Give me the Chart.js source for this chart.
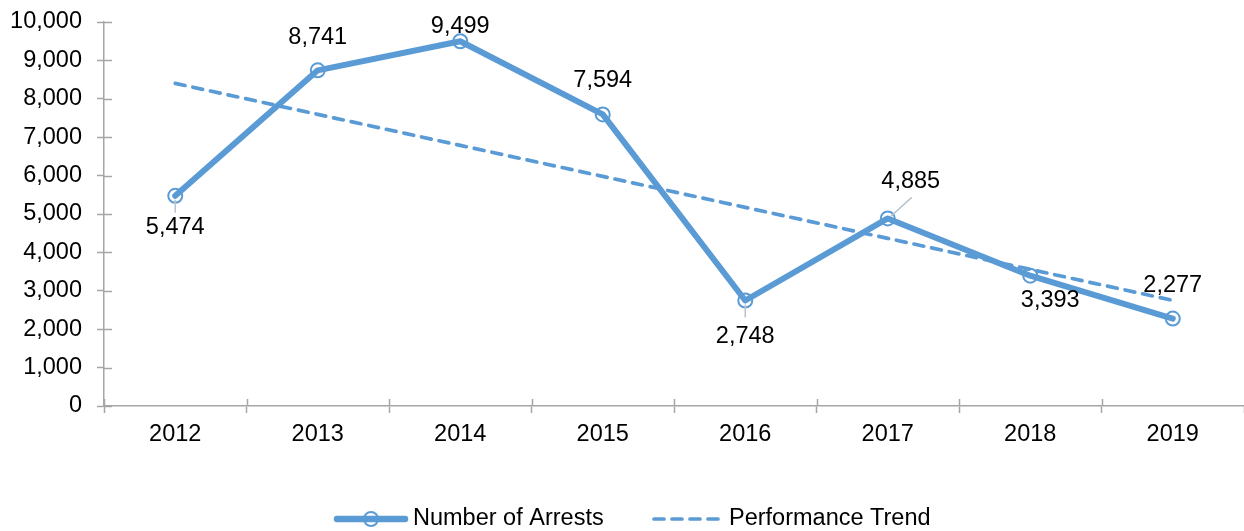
<!DOCTYPE html>
<html>
<head>
<meta charset="utf-8">
<script src="https://cdn.jsdelivr.net/npm/chart.js@4/dist/chart.umd.min.js"></script>
<style>
  html, body { margin: 0; padding: 0; background: #ffffff; }
  #wrap { width: 1244px; height: 531px; position: relative; }
</style>
</head>
<body>
<div id="wrap"><canvas id="c" width="1244" height="531"></canvas></div>
<script>
// ---- data ----
const years = ['2012', '2013', '2014', '2015', '2016', '2017', '2018', '2019'];
const arrests = [5474, 8741, 9499, 7594, 2748, 4885, 3393, 2277];
const trend = [8402, 7594, 6787, 5980, 5173, 4366, 3558, 2751];
const yTicks = [0, 1000, 2000, 3000, 4000, 5000, 6000, 7000, 8000, 9000, 10000];
const seriesNames = ['Number of Arrests', 'Performance Trend'];

// ---- styling ----
const BLUE = '#5b9bd5';
const GRAY = '#a6a6a6';
const LEADER = '#b8c4d0';
const FONT = '"Liberation Sans", Arial, sans-serif';
const FS = 23.5;
// label placement (dx, dy relative to point) and leader lines
const labelOffsets = [[0, 32], [0, -33], [0, -15], [0, -34], [0, 36], [23, -37], [20, 25], [0, -33]];
const leaders = { 0: [[0, 4], [0, 17]], 4: [[0, 4], [0, 17]], 5: [[3, -2], [24, -21]] };

function zeroPad(s) { s.paddingLeft = 0; s.paddingRight = 0; s.paddingTop = 0; s.paddingBottom = 0; }

const extras = {
  id: 'extras',
  afterDraw(chart) {
    const ctx = chart.ctx;
    const ca = chart.chartArea;
    const xs = chart.scales.x, ys = chart.scales.y;
    ctx.save();
    // inner halves of tick marks
    ctx.strokeStyle = GRAY;
    ctx.lineWidth = 1.5;
    ctx.beginPath();
    yTicks.forEach(v => {
      const py = Math.round(ys.getPixelForValue(v)) + 0.5;
      ctx.moveTo(ca.left, py); ctx.lineTo(ca.left + 8, py);
    });
    const step = xs.getPixelForValue(1) - xs.getPixelForValue(0);
    for (let i = 0; i < years.length; i++) {
      const px = Math.round(xs.getPixelForValue(i) - step / 2) + 0.5;
      ctx.moveTo(px, ca.bottom); ctx.lineTo(px, ca.bottom - 7);
    }
    ctx.stroke();

    // leader lines + data labels
    const meta = chart.getDatasetMeta(1);
    ctx.strokeStyle = LEADER;
    ctx.lineWidth = 1.5;
    Object.keys(leaders).forEach(k => {
      const el = meta.data[k];
      const l = leaders[k];
      ctx.beginPath();
      ctx.moveTo(el.x + l[0][0], el.y + l[0][1]);
      ctx.lineTo(el.x + l[1][0], el.y + l[1][1]);
      ctx.stroke();
    });
    ctx.fillStyle = '#000';
    ctx.font = FS + 'px ' + FONT;
    ctx.textAlign = 'center';
    ctx.textBaseline = 'middle';
    meta.data.forEach((el, i) => {
      const o = labelOffsets[i];
      ctx.fillText(arrests[i].toLocaleString('en-US'), el.x + o[0], el.y + o[1]);
    });

    // legend
    const ly = 519;
    ctx.lineCap = 'round';
    ctx.strokeStyle = BLUE;
    ctx.lineWidth = 6.5;
    ctx.beginPath(); ctx.moveTo(337, ly); ctx.lineTo(405, ly); ctx.stroke();
    ctx.lineWidth = 2;
    ctx.beginPath(); ctx.arc(371, ly, 7, 0, Math.PI * 2); ctx.stroke();
    ctx.lineWidth = 3.7;
    ctx.setLineDash([10, 8]);
    ctx.beginPath(); ctx.moveTo(654, ly); ctx.lineTo(724, ly); ctx.stroke();
    ctx.setLineDash([]);
    ctx.fillStyle = '#000';
    ctx.textAlign = 'left';
    ctx.fillText(seriesNames[0], 413, ly);
    ctx.fillText(seriesNames[1], 729, ly);
    ctx.restore();
  }
};

new Chart(document.getElementById('c'), {
  type: 'line',
  data: {
    labels: years,
    datasets: [
      {
        label: seriesNames[1],
        data: trend,
        borderColor: BLUE,
        borderWidth: 3.7,
        borderDash: [10, 8],
        borderCapStyle: 'round',
        pointRadius: 0,
        fill: false,
        tension: 0,
        order: 0
      },
      {
        label: seriesNames[0],
        data: arrests,
        borderColor: BLUE,
        borderWidth: 6,
        borderJoinStyle: 'round',
        borderCapStyle: 'round',
        pointRadius: 7,
        pointBorderWidth: 2,
        pointBorderColor: BLUE,
        pointBackgroundColor: 'rgba(255,255,255,0)',
        fill: false,
        tension: 0,
        order: 1
      }
    ]
  },
  options: {
    responsive: false,
    animation: false,
    devicePixelRatio: 1,
    layout: { autoPadding: false, padding: { top: 22, left: 0, right: 0, bottom: 0 } },
    plugins: { legend: { display: false }, tooltip: { enabled: false } },
    font: { family: FONT, size: FS },
    scales: {
      x: {
        offset: true,
        afterFit(s) { s.height = 125; zeroPad(s); },
        grid: {
          display: true, offset: true, drawOnChartArea: false, drawTicks: true, tickLength: 7, tickWidth: 1.5,
          tickColor: c => (c.index >= years.length ? 'rgba(0,0,0,0)' : GRAY)
        },
        border: { display: true, color: GRAY, width: 1.5 },
        ticks: { color: '#000', font: { family: FONT, size: FS }, padding: 7, maxRotation: 0 }
      },
      y: {
        min: 0,
        max: 10000,
        afterFit(s) { s.width = 104; zeroPad(s); },
        afterBuildTicks(s) { s.ticks = yTicks.map(v => ({ value: v })); },
        grid: { display: true, drawOnChartArea: false, drawTicks: true, tickLength: 7, tickColor: GRAY, tickWidth: 1.5 },
        border: { display: true, color: GRAY, width: 1.5 },
        ticks: {
          color: '#000',
          font: { family: FONT, size: FS },
          padding: 15,
          callback: v => Number(v).toLocaleString('en-US')
        }
      }
    }
  },
  plugins: [extras]
});
</script>
</body>
</html>
